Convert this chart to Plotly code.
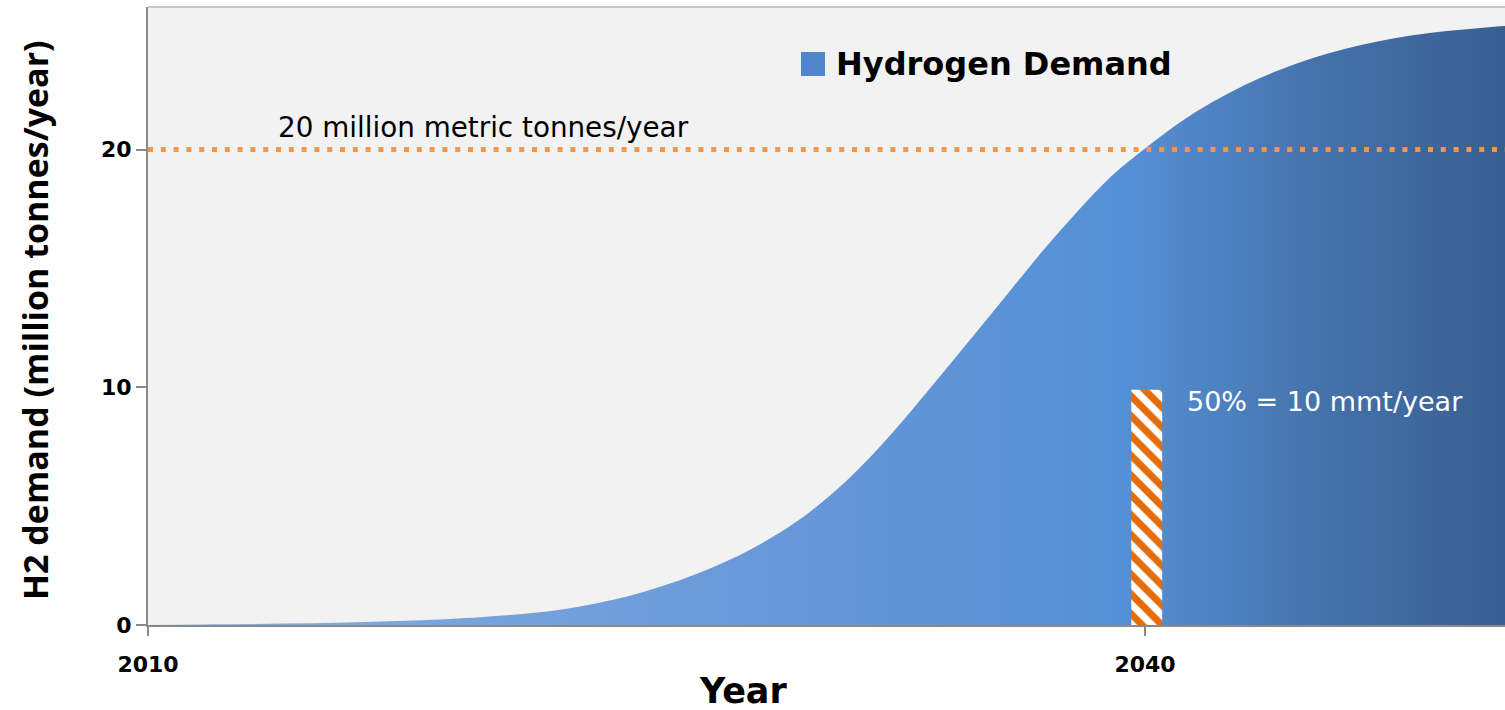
import plotly.graph_objects as go

# ---- data ----
years = [2010, 2012, 2014, 2016, 2018, 2020, 2021, 2022, 2023, 2024, 2025, 2026, 2027,
         2028, 2029, 2030, 2031, 2032, 2033, 2034, 2035, 2036, 2037, 2038, 2039, 2040,
         2041, 2042, 2043, 2044, 2045, 2046, 2047, 2048, 2049, 2050, 2050.83]
demand = [0.0, 0.03, 0.06, 0.11, 0.19, 0.33, 0.43, 0.57, 0.78, 1.06, 1.43, 1.88, 2.43,
          3.08, 3.88, 4.85, 6.05, 7.47, 9.07, 10.75, 12.45, 14.17, 15.87, 17.45, 18.9, 20.05,
          21.1, 21.98, 22.72, 23.33, 23.83, 24.23, 24.55, 24.8, 24.98, 25.11, 25.2]

target_level = 20          # 20 million metric tonnes/year
half_year = [2040.05]      # 50% bar
half_value = [9.9]

x_ticks = [2010, 2040]
y_ticks = [0, 10, 20]
x_range = [2010, 2050.83]
y_range = [0, 26.0]

# plot area spans page x 148..1505, y 7..625
L, R, T, B = 148, 0, 7, 85
PW, PH = 1357, 618
PLOT_LEFT, PLOT_BOTTOM = 148, 625


def px(xp):
    return (xp - PLOT_LEFT) / PW


def py(yp):
    return (PLOT_BOTTOM - yp) / PH


fig = go.Figure()

fig.add_trace(go.Scatter(
    x=years, y=demand, mode="lines", line=dict(width=0, shape="spline", smoothing=1.0),
    fill="tozeroy",
    fillgradient=dict(type="horizontal",
                      colorscale=[[0.0, "#84afe4"], [0.25, "#77a3dd"], [0.5, "#6596d8"],
                                  [0.72, "#5590d6"], [0.86, "#4673ac"], [1.0, "#375f91"]]),
    name="Hydrogen Demand", showlegend=False, hoverinfo="skip"))

fig.add_trace(go.Scatter(
    x=[x_range[0], x_range[1]], y=[target_level, target_level], mode="lines",
    line=dict(color="#f79646", width=5, dash="5px,7.8px"),
    showlegend=False, hoverinfo="skip"))

fig.add_trace(go.Bar(
    x=half_year, y=half_value, width=0.93, xaxis="x2", yaxis="y2",
    marker=dict(color="white", line=dict(width=0),
                pattern=dict(shape="\\", fgcolor="#e46c0a", bgcolor="white", fgopacity=1,
                             size=14, solidity=0.5, fillmode="overlay")),
    showlegend=False, hoverinfo="skip"))

fig.update_layout(
    width=1505, height=710,
    margin=dict(l=L, r=R, t=T, b=B),
    paper_bgcolor="white", plot_bgcolor="#f2f2f2",
    showlegend=False,
    font=dict(family="DejaVu Sans", color="black"),
    xaxis=dict(range=x_range, tickvals=x_ticks, ticktext=[str(v) for v in x_ticks],
               showgrid=False, zeroline=False, showline=True, linecolor="#898989", linewidth=2,
               ticks="outside", ticklen=9, tickwidth=2, tickcolor="#898989",
               ticklabelstandoff=10,
               tickfont=dict(family="DejaVu Sans", size=22, color="black", weight="bold")),
    yaxis=dict(range=y_range, tickvals=y_ticks, ticktext=[str(v) for v in y_ticks],
               showgrid=False, zeroline=False, showline=True, linecolor="#898989", linewidth=2,
               ticks="outside", ticklen=10, tickwidth=2, tickcolor="#898989",
               tickfont=dict(family="DejaVu Sans", size=22, color="black", weight="bold")),
    xaxis2=dict(overlaying="x", range=x_range, visible=False),
    yaxis2=dict(overlaying="y", range=y_range, visible=False),
    shapes=[
        dict(type="line", xref="paper", yref="paper", x0=0, x1=1, y0=1, y1=1,
             line=dict(color="#c8c8c8", width=2)),
        dict(type="rect", xref="paper", yref="paper",
             x0=px(801), x1=px(825), y0=py(76), y1=py(52),
             fillcolor="#4f86cc", line=dict(width=0)),
    ],
    annotations=[
        dict(text="<b>Hydrogen Demand</b>", xref="paper", yref="paper",
             x=px(834), y=py(64), xanchor="left", yanchor="middle",
             showarrow=False, font=dict(family="DejaVu Sans", size=32, color="black")),
        dict(text="20 million metric tonnes/year", x=2013.85, y=20.95, xanchor="left",
             yanchor="middle", showarrow=False,
             font=dict(family="DejaVu Sans", size=27.8, color="black")),
        dict(text="50% = 10 mmt/year", x=2041.2, y=9.4, xanchor="left", yanchor="middle",
             showarrow=False, font=dict(family="DejaVu Sans", size=27, color="white")),
        dict(text="<b>Year</b>", xref="paper", yref="paper", x=px(743),
             y=py(691), xanchor="center", yanchor="middle", showarrow=False,
             font=dict(family="DejaVu Sans", size=35, color="black")),
        dict(text="<b>H2 demand (million tonnes/year)</b>", xref="paper", yref="paper",
             x=px(35), y=py(320), xanchor="center", yanchor="middle",
             textangle=-90, showarrow=False,
             font=dict(family="Open Sans", size=34, color="black")),
    ],
)

fig.write_html("out.html", config={"displayModeBar": False},
               post_script="document.body.style.margin='0';document.body.style.overflow='hidden';")
